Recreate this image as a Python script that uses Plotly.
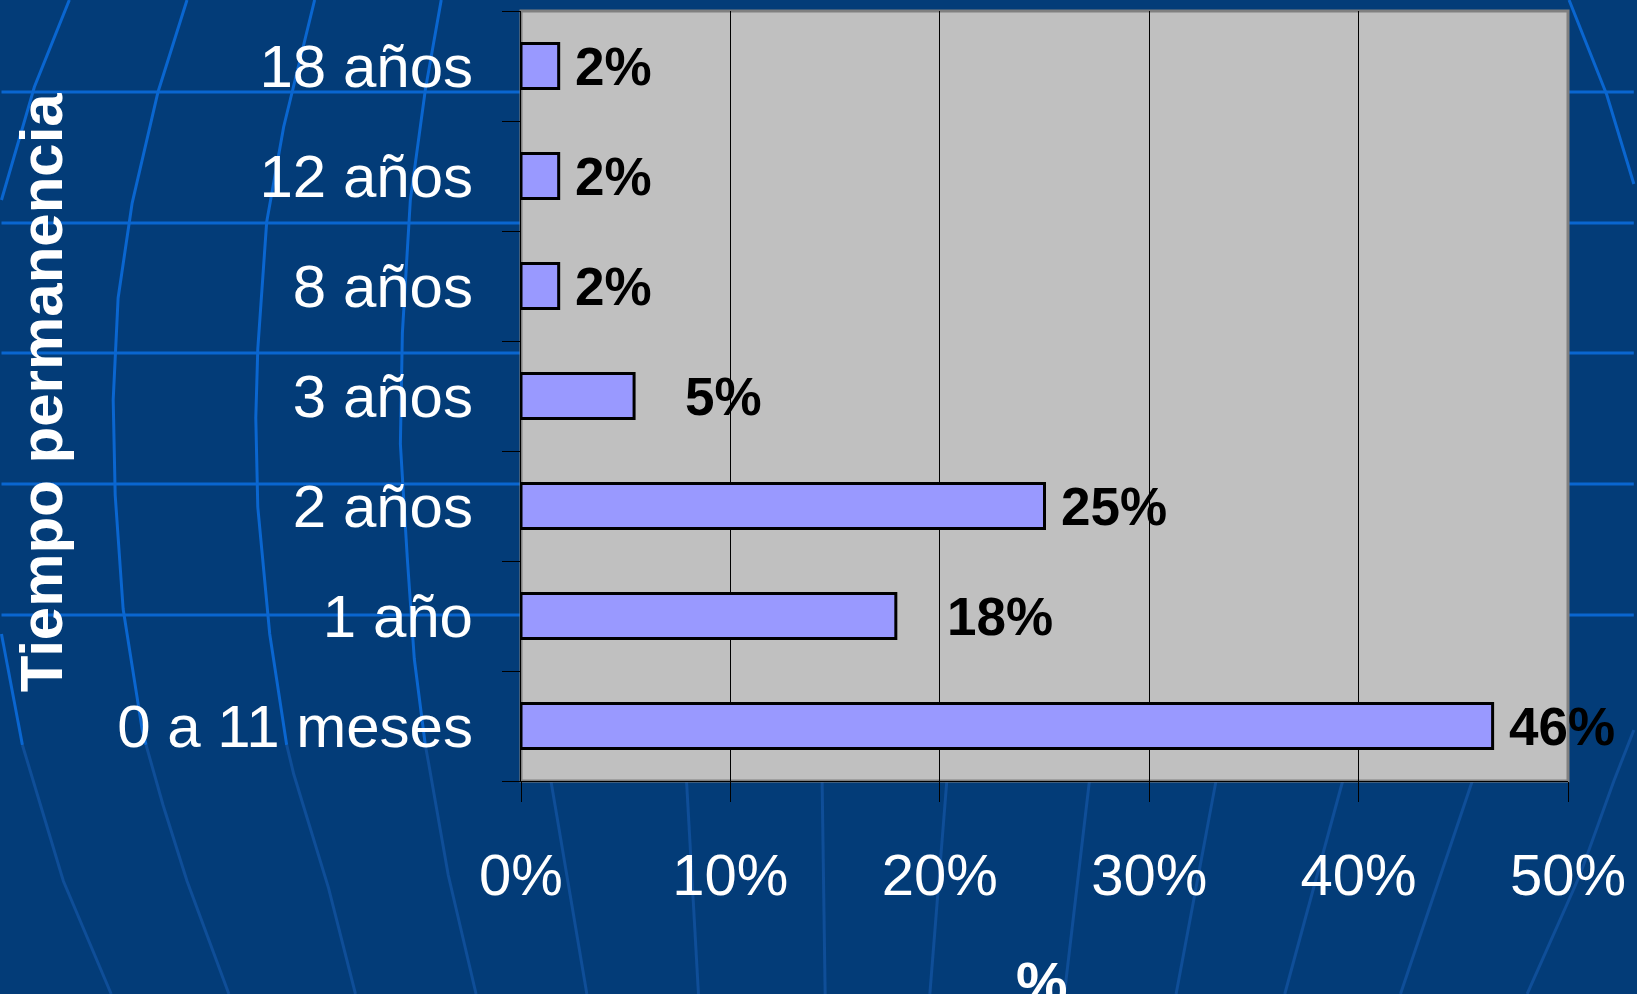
import plotly.graph_objects as go

# data (bottom to top, as plotly draws horizontal bars)
categorias = ['0 a 11 meses', '1 año', '2 años', '3 años', '8 años', '12 años', '18 años']
porcentajes = [0.464, 0.179, 0.250, 0.054, 0.018, 0.018, 0.018]
etiquetas = ['46%', '18%', '25%', '5%', '2%', '2%', '2%']
desplaz_etiqueta = [14, 49, 14, 49, 14, 14, 14]

W, H = 1637, 994
L, R, T, B = 521, 66, 11, 213
pw, ph = W - L - R, H - T - B

azul_fondo = '#033C78'
azul_claro = '#0A66D0'
azul_tenue = '#0F4E98'


def px(x, y):
    return (x - L) / pw, (H - B - y) / ph


def trazo(puntos):
    pts = [px(x, y) for x, y in puntos]
    return 'M ' + ' L '.join('%.4f,%.4f' % p for p in pts)


# background "globe" lines
horizontales = [92, 223, 353, 484, 615]
meridianos_claros = [
    [(68, 0), (33, 87), (0, 200)],
    [(0, 634), (21, 745)],
    [(186, 0), (157, 92), (131, 203), (117, 298), (112, 400), (114, 495), (122, 609), (141, 729), (145, 745)],
    [(314, 0), (283, 127), (266, 222), (257, 349), (255, 418), (257, 507), (269, 634), (286, 745)],
    [(441, 0), (425, 90), (410, 200), (402, 333), (400, 444), (407, 558), (414, 659), (425, 745)],
    [(1572, 0), (1610, 95), (1637, 184)],
]
meridianos_tenues = [
    [(21, 745), (62, 881), (110, 994)],
    [(145, 745), (162, 805), (186, 881), (228, 994)],
    [(286, 745), (293, 774), (328, 888), (355, 994)],
    [(425, 745), (428, 761), (448, 875), (476, 994)],
    [(551, 781), (587, 994)],
    [(687, 781), (699, 994)],
    [(823, 781), (826, 994)],
    [(948, 781), (931, 994)],
    [(1091, 781), (1066, 994)],
    [(1218, 781), (1178, 994)],
    [(1345, 781), (1287, 994)],
    [(1475, 781), (1403, 994)],
    [(1637, 730), (1617, 781), (1583, 875), (1530, 994)],
]

shapes = []
for y in horizontales:
    x0, yy = px(0, y)
    x1, _ = px(W, y)
    shapes.append(dict(type='line', xref='paper', yref='paper', x0=x0, x1=x1, y0=yy, y1=yy,
                       line=dict(color=azul_claro, width=3), layer='below'))
for m in meridianos_claros:
    shapes.append(dict(type='path', xref='paper', yref='paper', path=trazo(m),
                       line=dict(color=azul_claro, width=3), layer='below'))
for m in meridianos_tenues:
    shapes.append(dict(type='path', xref='paper', yref='paper', path=trazo(m),
                       line=dict(color=azul_tenue, width=3), layer='below'))
# gray plot area on top of the decoration
shapes.append(dict(type='rect', xref='paper', yref='paper', x0=0, x1=1, y0=0, y1=1,
                   fillcolor='#C0C0C0', line=dict(color='#808080', width=3), layer='below'))

fig = go.Figure()
fig.add_trace(go.Bar(
    x=porcentajes, y=categorias, orientation='h', width=0.41,
    marker=dict(color='#9999FF', line=dict(color='black', width=3)),
    hoverinfo='skip',
))

anotaciones = []
for c, v, t, d in zip(categorias, porcentajes, etiquetas, desplaz_etiqueta):
    anotaciones.append(dict(x=v, y=c, text='<b>%s</b>' % t, showarrow=False, xanchor='left',
                            xshift=d, font=dict(family='Liberation Sans, Arial', size=53, color='black')))

anotaciones.append(dict(text='<b>Tiempo permanencia</b>', xref='paper', yref='paper',
                        x=px(40, 0)[0], y=px(0, 392)[1], textangle=-90, showarrow=False,
                        xanchor='center', yanchor='middle',
                        font=dict(family='Liberation Sans, Arial', size=60, color='white')))
anotaciones.append(dict(text='<b>%</b>', xref='paper', yref='paper',
                        x=px(1043, 0)[0], y=px(0, 948)[1], showarrow=False,
                        xanchor='center', yanchor='top',
                        font=dict(family='Liberation Sans, Arial', size=58, color='white')))

fig.update_layout(
    width=W, height=H, autosize=False,
    margin=dict(l=L, r=R, t=T, b=B, pad=0),
    paper_bgcolor=azul_fondo,
    plot_bgcolor='rgba(0,0,0,0)',
    showlegend=False,
    shapes=shapes,
    annotations=anotaciones,
)
fig.update_xaxes(
    range=[0, 0.5], dtick=0.1, tickformat='.0%',
    showgrid=True, gridcolor='black', gridwidth=1, zeroline=False,
    showline=True, linecolor='black', linewidth=1,
    ticks='outside', ticklen=20, tickcolor='black', tickwidth=1,
    ticklabelstandoff=23,
    tickfont=dict(family='Liberation Sans, Arial', size=58, color='white'),
)
fig.update_yaxes(
    categoryorder='array', categoryarray=categorias,
    showgrid=False, zeroline=False,
    showline=True, linecolor='black', linewidth=1,
    ticks='outside', tickson='boundaries', ticklen=18, tickcolor='black', tickwidth=1,
    ticklabelstandoff=35,
    tickfont=dict(family='Liberation Sans, Arial', size=60, color='white'),
)

fig.write_html('out.html', config={'displayModeBar': False},
               post_script="document.body.style.margin='0';document.body.style.background='" + azul_fondo + "';")
